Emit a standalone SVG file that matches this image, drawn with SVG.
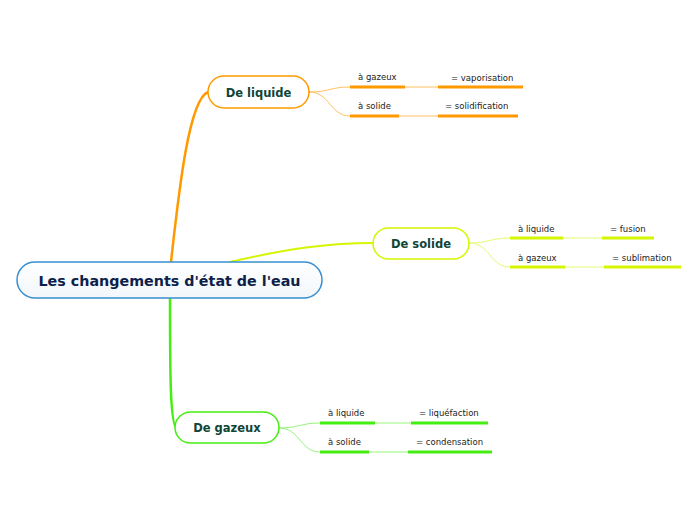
<svg xmlns="http://www.w3.org/2000/svg" width="696" height="520" viewBox="0 0 696 520">
<defs>
<linearGradient id="cg" x1="0" y1="0" x2="0" y2="1"><stop offset="0" stop-color="#ffffff"/><stop offset="1" stop-color="#f2f7fb"/></linearGradient>
</defs>
<style>
.lbl{font-family:"DejaVu Sans",Verdana,sans-serif;font-size:8.5px;fill:#222}
.nt{font-family:"DejaVu Sans",Verdana,sans-serif;font-weight:bold;font-size:11.5px;fill:#0f4536;text-anchor:middle}
.thin{fill:none;stroke-width:1}
.ul{stroke-width:3;fill:none}
.o{stroke:#ff9900}.y{stroke:#d5f500}.g{stroke:#44ee11}
.ol{stroke:#ffc060}.yl{stroke:#e2fb70}.gl{stroke:#96f47a}
</style>
<rect width="696" height="520" fill="#fff"/>
<g id="connectors">
<path d="M171,262 C178,200 188,100 208,92" fill="none" stroke="#ff9900" stroke-width="2.5"/>
<path d="M230,262 C290,248 330,243 373,243" fill="none" stroke="#d5f500" stroke-width="2"/>
<path d="M170,298 C170,370 170,428 177,428" fill="none" stroke="#44ee11" stroke-width="2.5"/>
<path class="thin ol" d="M309,92 C330,92 330,87 350,87 M309,92 C330,92 330,116 350,116 M405,87 H438 M399,116 H438"/>
<path class="thin yl" d="M469,243 C490,243 490,238 510,238 M469,243 C490,243 490,267 510,267 M563,238 H602 M565,267 H604"/>
<path class="thin gl" d="M279,428 C300,428 300,423 320,423 M279,428 C300,428 300,452 320,452 M375,423 H411 M369,452 H408"/>
</g>
<g id="central">
<rect x="17" y="262" width="305" height="36" rx="18" fill="url(#cg)" stroke="#3a8fd0" stroke-width="1.5"/>
<text x="169.5" y="286" text-anchor="middle" style="font-family:'DejaVu Sans',Verdana,sans-serif;font-weight:bold;font-size:14.3px;fill:#0d1f4a">Les changements d'état de l'eau</text>
</g>
<g id="liquide">
<rect x="208" y="76" width="101" height="32" rx="16" fill="#fff" stroke="#ff9900" stroke-width="1.5"/>
<text class="nt" x="258.5" y="97">De liquide</text>
<path class="ul o" d="M350,87 H405 M438,87 H523"/>
<text class="lbl" x="358" y="80">à gazeux</text>
<text class="lbl" x="451" y="81">= vaporisation</text>
<path class="ul o" d="M350,116 H399 M438,116 H518"/>
<text class="lbl" x="358" y="109">à solide</text>
<text class="lbl" x="445" y="109">= solidification</text>
</g>
<g id="solide">
<rect x="373" y="228" width="96" height="31" rx="15.5" fill="#fff" stroke="#d5f500" stroke-width="1.5"/>
<text class="nt" x="421" y="248">De solide</text>
<path class="ul y" d="M510,238 H563 M602,238 H654"/>
<text class="lbl" x="518" y="232">à liquide</text>
<text class="lbl" x="610" y="232">= fusion</text>
<path class="ul y" d="M510,267 H565 M604,267 H681"/>
<text class="lbl" x="518" y="261">à gazeux</text>
<text class="lbl" x="612" y="261">= sublimation</text>
</g>
<g id="gazeux">
<rect x="175" y="412" width="104" height="31" rx="15.5" fill="#fff" stroke="#44ee11" stroke-width="1.5"/>
<text class="nt" x="227" y="432">De gazeux</text>
<path class="ul g" d="M320,423 H375 M411,423 H488"/>
<text class="lbl" x="328" y="416">à liquide</text>
<text class="lbl" x="419" y="416">= liquéfaction</text>
<path class="ul g" d="M320,452 H369 M408,452 H492"/>
<text class="lbl" x="328" y="445">à solide</text>
<text class="lbl" x="416" y="445">= condensation</text>
</g>
</svg>
